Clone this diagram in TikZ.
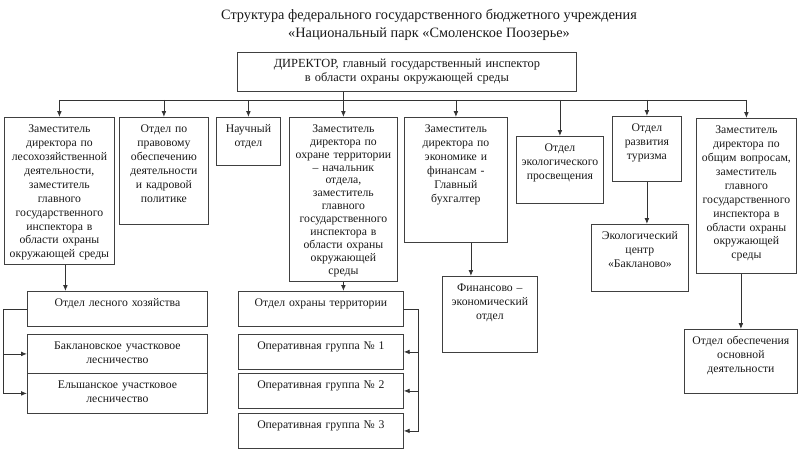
\documentclass[tikz,border=0pt]{standalone}
\usepackage{fontspec}
\setmainfont{Liberation Serif}
\usetikzlibrary{arrows.meta}
\tikzset{
  unit/.style={draw=black!75,line width=0.7pt,anchor=north west,align=center,inner sep=0.12cm,text height=0.33cm,font=\fontsize{10}{11.9}\selectfont,text=black!90},
  ln/.style={draw=black!80,line width=0.7pt},
  arr/.style={ln,-{Latex[length=5pt,width=4pt]}}
}

\begin{document}
\begin{tikzpicture}[x=0.03cm,y=-0.03cm]
\useasboundingbox (0,0) rectangle (800,451);
\node[font=\fontsize{12.2}{15}\selectfont,align=center,text=black!90] (title) at (429,25) {Структура федерального государственного бюджетного учреждения\\«Национальный парк «Смоленское Поозерье»};
\node[unit,font=\fontsize{10.6}{11.9}\selectfont,text width=9.93cm,text depth=0.60cm] (dir) at (237,52) {ДИРЕКТОР, главный государственный инспектор\\в области охраны окружающей среды};
% upper row
\node[unit,text width=3.06cm,text depth=3.84cm] (zles) at (4,117) {Заместитель\\директора по\\лесохозяйственной\\деятельности,\\заместитель\\главного\\государственного\\инспектора в\\области охраны\\окружающей среды};
\node[unit,text width=2.43cm,text depth=2.64cm] (prav) at (119,117) {Отдел по\\правовому\\обеспечению\\деятельности\\и кадровой\\политике};
\node[unit,text width=1.68cm,text depth=0.87cm] (nauch) at (216,117) {Научный\\отдел};
\node[unit,font=\fontsize{10}{11}\selectfont,text width=3.00cm,text depth=4.35cm] (zohr) at (289,117) {Заместитель\\директора по\\охране территории\\– начальник\\отдела,\\заместитель\\главного\\государственного\\инспектора в\\области охраны\\окружающей\\среды};
\node[unit,text width=2.85cm,text depth=3.18cm] (zecon) at (404,117) {Заместитель\\директора по\\экономике и\\финансам -\\Главный\\бухгалтер};
\node[unit,text width=2.37cm,text depth=1.44cm] (ecopr) at (516,136) {Отдел\\экологического\\просвещения};
\node[unit,text width=1.83cm,text depth=1.38cm] (tur) at (612,116) {Отдел\\развития\\туризма};
\node[unit,text width=2.76cm,text depth=4.08cm] (zobsh) at (696,118) {Заместитель\\директора по\\общим вопросам,\\заместитель\\главного\\государственного\\инспектора в\\области охраны\\окружающей\\среды};
% lower boxes
\node[unit,text width=2.67cm,text depth=1.44cm] (ecocentr) at (591,224) {Экологический\\центр\\«Бакланово»};
\node[unit,text width=2.61cm,text depth=1.71cm] (fin) at (442,276) {Финансово –\\экономический\\отдел};
\node[unit,text width=3.15cm,text depth=1.35cm] (obesp) at (684,329) {Отдел обеспечения\\основной\\деятельности};
\node[unit,text width=5.16cm,text depth=0.48cm] (les) at (27,291) {Отдел лесного хозяйства};
\node[unit,text width=5.16cm,text depth=0.60cm] (bakl) at (27,334) {Баклановское участковое\\лесничество};
\node[unit,text width=5.16cm,text depth=0.63cm] (elsh) at (27,373) {Ельшанское участковое\\лесничество};
\node[unit,text width=4.71cm,text depth=0.48cm] (ohr) at (238,291) {Отдел охраны территории};
\node[unit,text width=4.71cm,text depth=0.48cm] (og1) at (238,334) {Оперативная группа № 1};
\node[unit,text width=4.71cm,text depth=0.48cm] (og2) at (238,373) {Оперативная группа № 2};
\node[unit,text width=4.71cm,text depth=0.48cm] (og3) at (238,413) {Оперативная группа № 3};
% connectors
\coordinate (bus) at (0,100);
\coordinate (lb) at (3,0);
\coordinate (rb) at (418,0);
\draw[ln] (zles.north |- bus) -- (zobsh.north |- bus);
\draw[arr] (dir.south -| zohr.north) -- (zohr.north);
\foreach \n in {zles,prav,nauch,zecon,ecopr,tur,zobsh}{\draw[arr] (\n.north |- bus) -- (\n.north);}
\draw[arr] ([xshift=0.18cm]zles.south) -- ([xshift=0.18cm]zles.south |- les.north);
\draw[arr] (zohr.south) -- (zohr.south |- ohr.north);
\draw[arr] ([xshift=0.45cm]zecon.south) -- ([xshift=0.45cm]zecon.south |- fin.north);
\draw[arr] (tur.south) -- (tur.south |- ecocentr.north);
\draw[arr] (obesp.north |- zobsh.south) -- (obesp.north);
\draw[arr] (les.west) -- (les.west -| lb) |- (bakl.west);
\draw[arr] (les.west -| lb) |- (elsh.west);
\foreach \i in {1,2,3}{\draw[arr] (ohr.east) -- (ohr.east -| rb) |- (og\i.east);}
\end{tikzpicture}
\end{document}
